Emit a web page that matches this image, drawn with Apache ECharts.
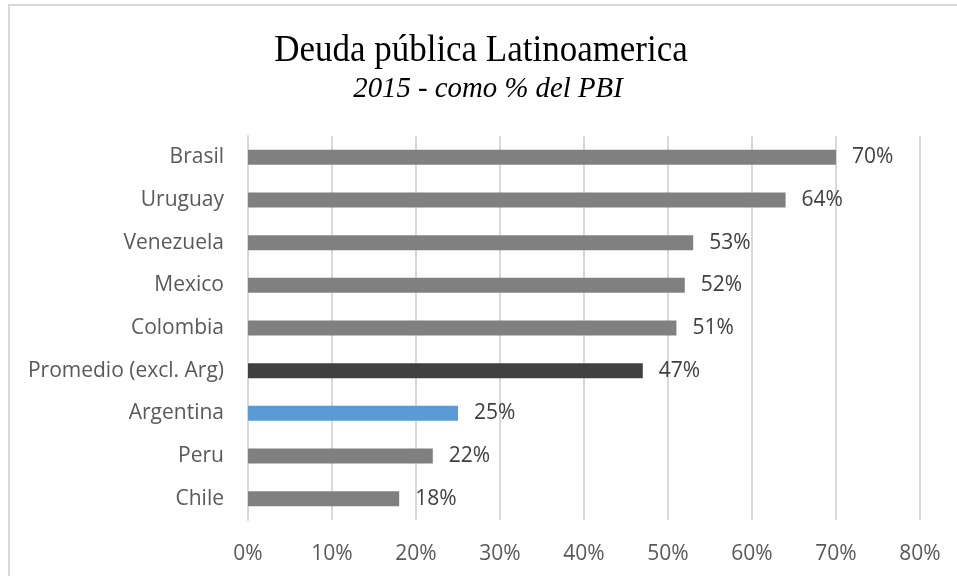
<!DOCTYPE html>
<html>
<head>
<meta charset="utf-8">
<title>Deuda pública Latinoamerica</title>
<script src="https://cdn.jsdelivr.net/npm/echarts@6/dist/echarts.min.js"></script>
<style>
  html, body { margin: 0; padding: 0; background: #ffffff; }
  #chart { width: 957px; height: 576px; }
</style>
</head>
<body>
<div id="chart"></div>
<script>
// Public debt as % of GDP, 2015 (top to bottom)
const countries = ['Brasil', 'Uruguay', 'Venezuela', 'Mexico', 'Colombia',
                   'Promedio (excl. Arg)', 'Argentina', 'Peru', 'Chile'];
const debtPct = [70, 64, 53, 52, 51, 47, 25, 22, 18];
const barColors = ['#808080', '#808080', '#808080', '#808080', '#808080',
                   '#404040', '#5B9BD5', '#808080', '#808080'];
const axisMin = 0;
const axisMax = 80;
const axisStep = 10;

const sans = '"Open Sans", "Noto Sans", sans-serif';
const serif = '"Liberation Serif", "DejaVu Serif", serif';
const chart = echarts.init(document.getElementById('chart'), null, { renderer: 'canvas' });

chart.setOption({
  backgroundColor: '#ffffff',
  animation: false,
  graphic: [{
    // outer frame
    type: 'rect',
    shape: { x: 9, y: 5, width: 2000, height: 2000 },
    style: { fill: 'none', stroke: '#d9d9d9', lineWidth: 2 },
    silent: true,
    z: -1
  }, {
    // main title, slightly condensed serif
    type: 'text',
    x: 481,
    y: 51,
    scaleX: 0.92,
    style: {
      text: 'Deuda pública Latinoamerica',
      x: 0, y: 0,
      font: '38px ' + serif,
      fill: '#000000',
      textAlign: 'center', align: 'center',
      textVerticalAlign: 'middle', verticalAlign: 'middle'
    },
    silent: true
  }, {
    // subtitle
    type: 'text',
    x: 488,
    y: 89,
    scaleX: 0.96,
    style: {
      text: '2015 - como % del PBI',
      x: 0, y: 0,
      font: 'italic 30px ' + serif,
      fill: '#000000',
      textAlign: 'center', align: 'center',
      textVerticalAlign: 'middle', verticalAlign: 'middle'
    },
    silent: true
  }],
  grid: { left: 248, right: 37, top: 136, bottom: 56, containLabel: false },
  xAxis: {
    type: 'value',
    min: axisMin,
    max: axisMax,
    interval: axisStep,
    axisLine: { show: false },
    axisTick: { show: false },
    splitLine: { show: true, lineStyle: { color: '#d9d9d9', width: 2 } },
    axisLabel: {
      formatter: '{value}%',
      color: '#595959',
      fontFamily: sans,
      fontSize: 21,
      margin: 24
    }
  },
  yAxis: {
    type: 'category',
    data: countries,
    inverse: true,
    axisLine: { show: true, lineStyle: { color: '#d9d9d9', width: 2 } },
    axisTick: { show: false },
    splitLine: { show: false },
    axisLabel: {
      color: '#595959',
      fontFamily: sans,
      fontSize: 21,
      margin: 24
    }
  },
  series: [{
    type: 'bar',
    data: debtPct.map((v, i) => ({ value: v, itemStyle: { color: barColors[i] } })),
    barWidth: 15,
    label: {
      show: true,
      position: 'right',
      distance: 16,
      formatter: '{c}%',
      color: '#404040',
      fontFamily: sans,
      fontSize: 21
    }
  }]
});
</script>
</body>
</html>
